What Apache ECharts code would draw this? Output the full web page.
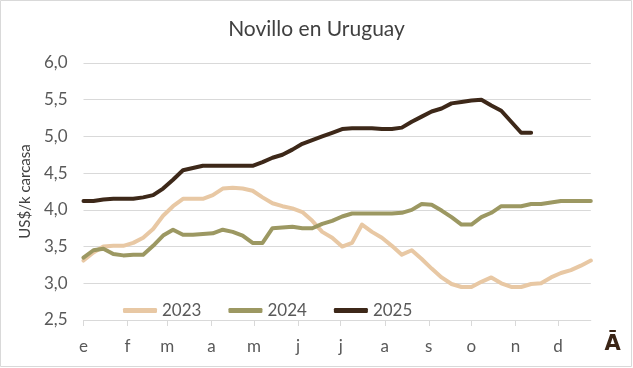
<!DOCTYPE html>
<html>
<head>
<meta charset="utf-8">
<script src="https://cdn.jsdelivr.net/npm/echarts@6.0.0/dist/echarts.min.js"></script>
<style>
  html, body { margin: 0; padding: 0; background: #ffffff; }
  #chart { width: 633px; height: 368px; }
</style>
</head>
<body>
<div id="chart"></div>
<script>
// ---- Data ----
const titleText = 'Novillo en Uruguay';
const yAxisName = 'US$/k carcasa';
const monthLabels = ['e', 'f', 'm', 'a', 'm', 'j', 'j', 'a', 's', 'o', 'n', 'd'];
const monthStartDays = [0, 31, 59, 90, 120, 151, 181, 212, 243, 273, 304, 334];
const lastDay = 357;            // last weekly observation (day of year)
const weekStep = 7;             // one observation per week

const seriesNames = ['2023', '2024', '2025'];

const v2023 = [3.31, 3.42, 3.50, 3.51, 3.51, 3.55, 3.62, 3.74, 3.92, 4.05,
               4.15, 4.15, 4.15, 4.20, 4.29, 4.30, 4.29, 4.26, 4.17, 4.09,
               4.05, 4.02, 3.97, 3.85, 3.70, 3.62, 3.50, 3.55, 3.80, 3.70,
               3.62, 3.51, 3.39, 3.45, 3.33, 3.20, 3.08, 2.99, 2.95, 2.95,
               3.02, 3.08, 3.00, 2.95, 2.95, 2.99, 3.00, 3.08, 3.14, 3.18,
               3.24, 3.31];

const v2024 = [3.35, 3.45, 3.47, 3.40, 3.38, 3.39, 3.39, 3.51, 3.65, 3.73,
               3.66, 3.66, 3.67, 3.68, 3.73, 3.70, 3.65, 3.55, 3.55, 3.75,
               3.76, 3.77, 3.75, 3.75, 3.81, 3.85, 3.91, 3.95, 3.95, 3.95,
               3.95, 3.95, 3.96, 4.00, 4.08, 4.07, 3.99, 3.90, 3.80, 3.80,
               3.90, 3.96, 4.05, 4.05, 4.05, 4.08, 4.08, 4.10, 4.12, 4.12,
               4.12, 4.12];

const v2025 = [4.12, 4.12, 4.14, 4.15, 4.15, 4.15, 4.17, 4.20, 4.29, 4.41,
               4.54, 4.57, 4.60, 4.60, 4.60, 4.60, 4.60, 4.60, 4.65, 4.71,
               4.75, 4.82, 4.90, 4.95, 5.00, 5.05, 5.10, 5.11, 5.11, 5.11,
               5.10, 5.10, 5.12, 5.20, 5.27, 5.34, 5.38, 5.45, 5.47, 5.49,
               5.50, 5.42, 5.35, 5.20, 5.05, 5.05];

const yMin = 2.5, yMax = 6.0, yStep = 0.5;
const colors = ['#e8c8a4', '#9c9862', '#3d2819'];

// ---- Build ----
function toPairs(vals) {
  return vals.map(function (v, i) { return [i * weekStep, v]; });
}
const allValues = [v2023, v2024, v2025];

const FONT = 'Lato';
const chart = echarts.init(document.getElementById('chart'), null, { renderer: 'canvas' });

const option = {
  backgroundColor: '#ffffff',
  animation: false,
  color: colors,
  title: {
    text: titleText,
    left: 'center',
    top: 14,
    textStyle: { fontFamily: FONT, fontSize: 21, fontWeight: 'normal', color: '#404040' }
  },
  legend: {
    data: seriesNames,
    left: 118,
    top: 297,
    icon: 'roundRect',
    itemWidth: 34,
    itemHeight: 5,
    itemGap: 27,
    textStyle: { fontFamily: FONT, fontSize: 17, color: '#595959' }
  },
  grid: { left: 83.5, right: 42.2, top: 63, bottom: 48, containLabel: false },
  xAxis: {
    type: 'value',
    min: 0,
    max: lastDay,
    splitLine: { show: false },
    axisLine: { show: true, lineStyle: { color: '#d9d9d9', width: 1 } },
    axisTick: { show: true, customValues: monthStartDays, length: 6, lineStyle: { color: '#d9d9d9' } },
    axisLabel: {
      customValues: monthStartDays,
      margin: 18,
      fontFamily: FONT,
      fontSize: 17,
      color: '#595959',
      formatter: function (v) {
        const k = monthStartDays.indexOf(v);
        return k >= 0 ? monthLabels[k] : '';
      }
    }
  },
  yAxis: {
    type: 'value',
    min: yMin,
    max: yMax,
    interval: yStep,
    name: yAxisName,
    nameLocation: 'middle',
    nameGap: 48,
    nameRotate: 90,
    nameTextStyle: { fontFamily: FONT, fontSize: 15, color: '#404040' },
    axisLine: { show: false },
    axisTick: { show: false },
    splitLine: { show: true, lineStyle: { color: '#d9d9d9', width: 1 } },
    axisLabel: {
      margin: 16,
      fontFamily: FONT,
      fontSize: 17,
      color: '#595959',
      formatter: function (v) { return v.toFixed(1).replace('.', ','); }
    }
  },
  series: seriesNames.map(function (name, k) {
    return {
      name: name,
      type: 'line',
      symbol: 'none',
      data: toPairs(allValues[k]),
      lineStyle: { width: 4, color: colors[k], cap: 'round', join: 'round' },
      itemStyle: { color: colors[k] },
      z: 2 + k
    };
  }),
  graphic: [
    {
      type: 'rect',
      shape: { x: 0.5, y: 0.5, width: 631, height: 366 },
      style: { fill: 'none', stroke: '#d9d9d9', lineWidth: 1 },
      silent: true
    },
    {
      type: 'text',
      x: 612.6,
      y: 345,
      style: {
        text: 'Ā',
        font: 'bold 21px "DejaVu Sans"',
        fill: '#3b2516',
        textAlign: 'center',
        textVerticalAlign: 'middle'
      },
      silent: true
    }
  ]
};
chart.setOption(option);
</script>
</body>
</html>
